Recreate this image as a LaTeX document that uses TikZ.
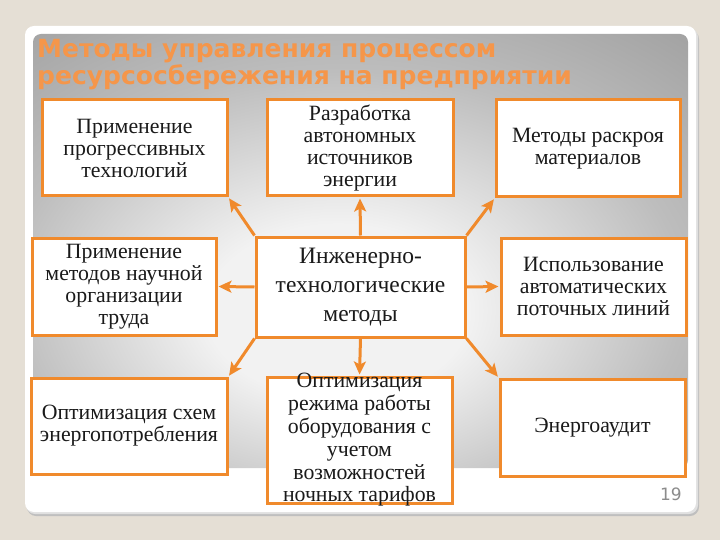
\documentclass[tikz,border=0pt]{standalone}
\usepackage{fontspec}
\setmainfont{Liberation Serif}
\newfontfamily\titlefont{DejaVu Sans}
\newfontfamily\numfont{DejaVu Sans}
\usetikzlibrary{arrows.meta}
\definecolor{pagebg}{HTML}{E5DFD5}
\definecolor{orng}{HTML}{F08A2C}
\definecolor{ttl}{HTML}{F5964A}
\definecolor{txt}{HTML}{1A1A1A}
\definecolor{grayout}{HTML}{989898}
\definecolor{graymid}{HTML}{BDBDBD}
\definecolor{grayin}{HTML}{F2F2F2}
\pgfdeclareradialshading{slidebg}{\pgfpoint{-2bp}{-8bp}}{color(0bp)=(grayin); color(10bp)=(grayin); color(26bp)=(graymid); color(44bp)=(grayout); color(75bp)=(grayout)}
\tikzset{
  box/.style={draw=orng, line width=3pt, fill=white, text=txt, align=center,
    inner sep=1pt, font=\fontsize{21.8}{22}\selectfont},
  arr/.style={draw=orng, line width=3pt, -{Stealth[length=13pt,width=12pt,inset=3pt]}, shorten >=1pt},
}
\begin{document}
\begin{tikzpicture}[x=1pt,y=-1pt]
\useasboundingbox (0,0) rectangle (720,540);
\fill[pagebg] (0,0) rectangle (720,540);
% frame shadow
\fill[black!25, rounded corners=9pt] (27,30) rectangle (699,516);
\fill[black!12, rounded corners=9pt] (26,28) rectangle (698,514);
\fill[white, rounded corners=9pt] (25,26) rectangle (696,512);
% gray gradient area
\shade[shading=slidebg, rounded corners=8pt]
  (33,468) -- (33,34) -- (688,34) -- (688,468) -- cycle;
% title
\node[anchor=base west, inner sep=0, text=ttl, font=\titlefont\bfseries\fontsize{25}{27}\selectfont, align=left] (title) at (37,85)
  {Методы управления процессом\\ресурсосбережения на предприятии};
% boxes
\node[box, minimum width=185pt, minimum height=96pt] (b1) at (134.5,148) {Применение\\прогрессивных\\технологий};
\node[box, minimum width=186pt, minimum height=96pt] (b2) at (360,148) {Разработка\\автономных\\источников\\энергии};
\node[box, minimum width=184pt, minimum height=97pt] (b3) at (588,148.5) {Методы раскроя\\материалов};
\node[box, minimum width=184pt, minimum height=97pt] (b4) at (124,286.5) {Применение\\методов научной\\организации\\труда};
\node[box, minimum width=209pt, minimum height=100pt, font=\fontsize{23.5}{29}\selectfont] (c) at (360.5,287) {Инженерно-\\технологические\\методы};
\node[box, minimum width=185pt, minimum height=97pt] (b6) at (593.5,286.5) {Использование\\автоматических\\поточных линий};
\node[box, minimum width=196pt, minimum height=96pt] (b7) at (129,426) {Оптимизация схем\\энергопотребления};
\node[box, minimum width=185pt, minimum height=126pt] (b8) at (359.5,440) {};
\node[align=center, text=txt, inner sep=0, font=\fontsize{21.8}{22.8}\selectfont] (b8t) at (b8.center)
  {Оптимизация\\режима работы\\оборудования с\\учетом\\возможностей\\ночных тарифов};
\node[box, minimum width=185pt, minimum height=97pt] (b9) at (592.5,427.5) {Энергоаудит};
% arrows
\draw[arr] (c.north west) -- (b1.south east);
\draw[arr] (c.north) -- (b2.south);
\draw[arr] (c.north east) -- (b3.south west);
\draw[arr] (c.west) -- (b4.east);
\draw[arr] (c.east) -- (b6.west);
\draw[arr] (c.south west) -- (b7.north east);
\draw[arr] (c.south) -- (b8.north);
\draw[arr] (c.south east) -- (b9.north west);
% page number
\node[anchor=base east, inner sep=0, text=black!45, font=\numfont\fontsize{17}{17}\selectfont] (pn) at (682,500) {19};
\end{tikzpicture}
\end{document}
